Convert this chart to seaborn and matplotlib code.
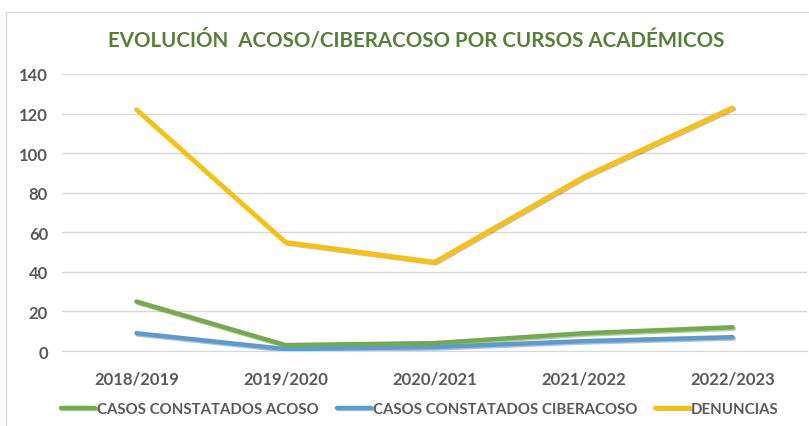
import pandas as pd
import matplotlib.pyplot as plt
import matplotlib.patheffects as pe
import seaborn as sns

# Data
cursos = ['2018/2019', '2019/2020', '2020/2021', '2021/2022', '2022/2023']
acoso = [25, 3, 4, 9, 12]
ciberacoso = [9, 1, 2, 5, 7]
denuncias = [122, 55, 45, 88, 123]
series = ['CASOS CONSTATADOS ACOSO', 'CASOS CONSTATADOS CIBERACOSO', 'DENUNCIAS']
colores = ['#70AD47', '#5B9BD5', '#FFC000']

df = pd.DataFrame({'curso': cursos * 3,
                   'serie': sum([[s] * len(cursos) for s in series], []),
                   'valor': acoso + ciberacoso + denuncias})

sns.set_style('white')
plt.rcParams['font.family'] = ['Lato', 'DejaVu Sans']
gris = '#595959'

fig = plt.figure(figsize=(8.09, 4.27), dpi=100)
# chart border
fig.patches.append(plt.Rectangle((0.007, -0.05), 1.1, 1.02, transform=fig.transFigure,
                                 fill=False, edgecolor='#D9D9D9', linewidth=1))
ax = fig.add_axes([0.0766, 0.1756, 0.921, 0.6488])

sns.lineplot(data=df, x='curso', y='valor', hue='serie', palette=colores,
             linewidth=3.2, ax=ax, sort=False, legend=True,
             path_effects=[pe.SimpleLineShadow(offset=(1, -1), alpha=0.25), pe.Normal()])

ax.set_xlim(-0.5, 4.5)
ax.set_ylim(0, 140)
ax.set_yticks(range(0, 141, 20))
ax.yaxis.grid(True, color='#D9D9D9', linewidth=1)
ax.set_axisbelow(True)
for s in ax.spines.values():
    s.set_visible(False)
ax.spines['bottom'].set_visible(True)
ax.spines['bottom'].set_color('#D9D9D9')
ax.tick_params(axis='both', length=0, labelsize=12, labelcolor=gris, pad=10)
ax.tick_params(axis='x', pad=14)
for lab in ax.get_xticklabels() + ax.get_yticklabels():
    lab.set_fontweight('bold')
ax.set_xlabel('')
ax.set_ylabel('')

fig.text(0.515, 0.905, 'EVOLUCIÓN  ACOSO/CIBERACOSO POR CURSOS ACADÉMICOS', ha='center',
         va='center', fontsize=14.8, fontweight='bold', color='#538135')

handles, labels = ax.get_legend_handles_labels()
ax.legend(handles, labels, loc='center', bbox_to_anchor=(0.519, 0.04),
          bbox_transform=fig.transFigure, ncol=3, frameon=False, handlelength=2.3,
          handletextpad=0.1, columnspacing=1.2,
          prop={'size': 10.8, 'weight': 'bold'}, labelcolor=gris)

plt.savefig('out.png', dpi=100)
